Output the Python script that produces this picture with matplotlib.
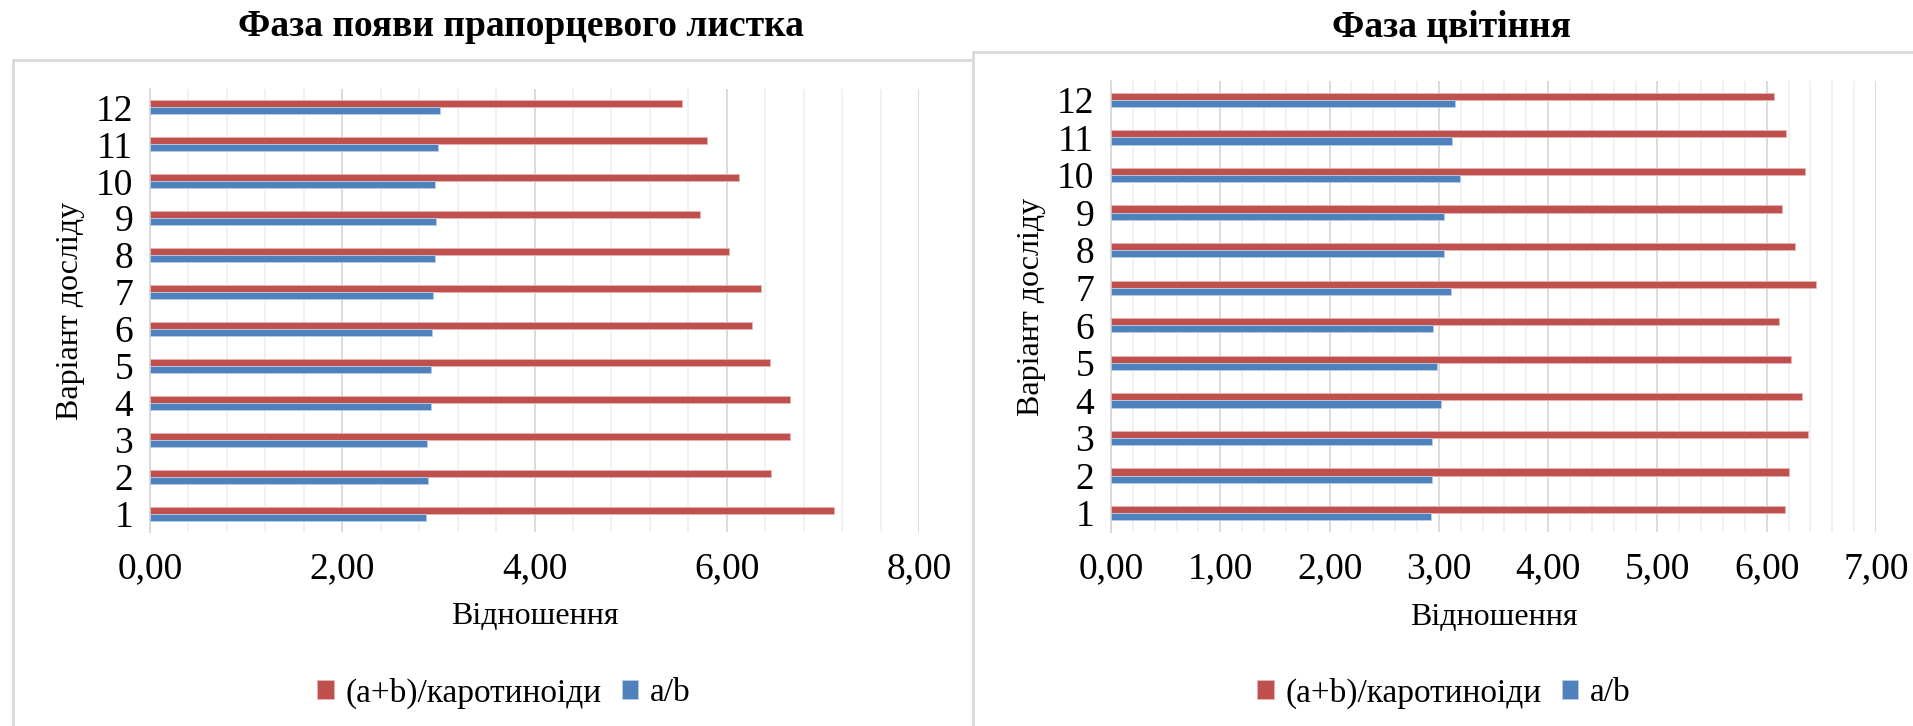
import matplotlib
matplotlib.use("Agg")
import matplotlib.pyplot as plt
from matplotlib.patches import Rectangle
from matplotlib.ticker import MultipleLocator, FuncFormatter
import numpy as np

plt.rcParams['font.family'] = ['Liberation Serif', 'DejaVu Serif']

categories = ['1', '2', '3', '4', '5', '6', '7', '8', '9', '10', '11', '12']
series_names = ['(a+b)/каротиноіди', 'a/b']

# Left chart: "Фаза появи прапорцевого листка"
left_ratio = [7.12, 6.46, 6.66, 6.66, 6.45, 6.26, 6.36, 6.02, 5.72, 6.13, 5.79, 5.53]
left_ab = [2.87, 2.89, 2.88, 2.92, 2.92, 2.93, 2.94, 2.96, 2.98, 2.97, 3.00, 3.02]

# Right chart: "Фаза цвітіння"
right_ratio = [6.17, 6.20, 6.38, 6.32, 6.22, 6.11, 6.45, 6.26, 6.14, 6.35, 6.18, 6.07]
right_ab = [2.93, 2.94, 2.94, 3.02, 2.98, 2.95, 3.11, 3.05, 3.05, 3.19, 3.12, 3.15]

titles = ['Фаза появи прапорцевого листка', 'Фаза цвітіння']
xlabel = 'Відношення'
ylabel = 'Варіант досліду'

RED = '#C0504D'
BLUE = '#4F81BD'
W, H = 1913, 726

fig = plt.figure(figsize=(W / 100, H / 100), dpi=100)

def fx(px):
    return px / W

def fy(py):
    return 1 - py / H

# chart frames
fig.patches.append(Rectangle((fx(13), fy(740)), fx(1000) - fx(13), fy(60) - fy(740),
                             transform=fig.transFigure, facecolor='white',
                             edgecolor='#D9D9D9', lw=2, zorder=-2))
fig.patches.append(Rectangle((fx(973), fy(740)), fx(1940) - fx(973), fy(52) - fy(740),
                             transform=fig.transFigure, facecolor='white',
                             edgecolor='#D9D9D9', lw=2, zorder=-1))

def draw(ax, ratio, ab, xmax, major, minor, title, title_x):
    y = np.arange(len(categories))
    h = 0.19
    ax.barh(y + h / 2, ratio, height=h, color=RED, edgecolor='#E8B5B4', lw=0.6, zorder=3,
            label=series_names[0])
    ax.barh(y - h / 2, ab, height=h, color=BLUE, edgecolor='#B9CDE5', lw=0.6, zorder=3,
            label=series_names[1])
    ax.set_xlim(0, xmax)
    ax.set_ylim(-0.5, len(categories) - 0.5)
    ax.set_yticks(y)
    ax.set_yticklabels(categories)
    ax.xaxis.set_major_locator(MultipleLocator(major))
    ax.xaxis.set_minor_locator(MultipleLocator(minor))
    ax.xaxis.set_major_formatter(FuncFormatter(lambda v, p: f'{v:.2f}'.replace('.', ',')))
    ax.grid(axis='x', which='major', color='#D9D9D9', lw=1.3, zorder=0)
    ax.grid(axis='x', which='minor', color='#F0F0F0', lw=1.3, zorder=0)
    for s in ['top', 'right', 'bottom']:
        ax.spines[s].set_visible(False)
    ax.spines['left'].set_color('#D9D9D9')
    ax.spines['left'].set_linewidth(1.3)
    ax.tick_params(axis='both', which='both', length=0, labelsize=27)
    ax.tick_params(axis='x', pad=14)
    ax.tick_params(axis='y', pad=12)
    ax.set_xlabel(xlabel, fontsize=23, va='center')
    ax.set_ylabel(ylabel, fontsize=23, va='center')
    ax.xaxis.set_label_coords(0.5, -0.19)
    ax.yaxis.set_label_coords(-0.104, 0.5)
    ax.set_facecolor('none')
    fig.text(fx(title_x), fy(27), title, ha='center', va='center', fontsize=27,
             fontweight='bold')

axL = fig.add_axes([fx(150), fy(532), fx(919) - fx(150), fy(89) - fy(532)])
draw(axL, left_ratio, left_ab, 8, 2, 0.4, titles[0], 521)
axR = fig.add_axes([fx(1111), fy(532), fx(1876) - fx(1111), fy(81) - fy(532)])
draw(axR, right_ratio, right_ab, 7, 1, 0.2, titles[1], 1452)

for ax, cx in [(axL, 504), (axR, 1444)]:
    hnd, lab = ax.get_legend_handles_labels()
    fig.legend(hnd, lab, loc='center', bbox_to_anchor=(fx(cx), fy(693)), ncol=2,
               frameon=False, fontsize=24, handlelength=0.5, handleheight=0.5,
               handletextpad=0.35, columnspacing=0.6)

fig.savefig('out.png', dpi=100)
